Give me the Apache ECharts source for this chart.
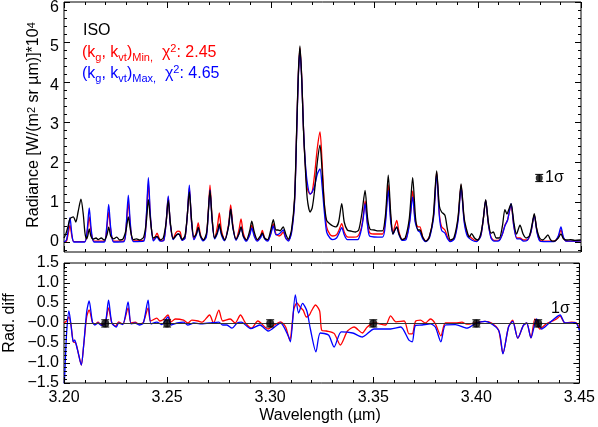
<!DOCTYPE html>
<html>
<head>
<meta charset="utf-8">
<script src="https://cdn.jsdelivr.net/npm/echarts@6/dist/echarts.min.js"></script>
<style>html,body{margin:0;padding:0;background:#fff}#c{width:598px;height:427px}</style>
</head>
<body>
<div id="c"></div>
<script>
// ---- Top panel: radiance (x1e4) vs wavelength (um) ----
const isoTop = [
[3.2000,0.10],[3.2010,0.22],[3.2020,0.40],[3.2029,0.58],[3.2045,0.63],[3.2057,0.50],[3.2068,0.75],[3.2082,1.07],[3.2093,0.70],[3.2102,0.20],
[3.2110,0.08],[3.2116,0.18],[3.2122,0.33],[3.2130,0.15],[3.2140,0.07],[3.2155,0.10],[3.2165,0.06],[3.2180,0.10],[3.2195,0.05],[3.2208,0.18],
[3.2216,0.37],[3.2226,0.15],[3.2240,0.08],[3.2255,0.12],[3.2270,0.05],[3.2285,0.07],[3.2300,0.30],[3.2311,0.63],[3.2322,0.28],[3.2335,0.06],
[3.2350,0.08],[3.2365,0.05],[3.2385,0.12],[3.2398,0.50],[3.2408,1.06],[3.2420,0.45],[3.2432,0.10],[3.2450,0.14],[3.2465,0.05],[3.2480,0.10],
[3.2494,0.50],[3.2504,1.04],[3.2515,0.45],[3.2528,0.08],[3.2540,0.15],[3.2551,0.20],[3.2560,0.18],[3.2570,0.06],[3.2585,0.15],[3.2596,0.65],
[3.2606,1.25],[3.2617,0.55],[3.2628,0.12],[3.2640,0.20],[3.2649,0.37],[3.2660,0.15],[3.2675,0.05],[3.2690,0.25],[3.2697,0.70],[3.2706,1.29],
[3.2716,0.60],[3.2728,0.10],[3.2742,0.25],[3.2751,0.45],[3.2762,0.20],[3.2778,0.05],[3.2796,0.40],[3.2806,0.82],[3.2817,0.35],[3.2832,0.07],
[3.2847,0.22],[3.2856,0.38],[3.2867,0.15],[3.2882,0.05],[3.2898,0.28],[3.2908,0.52],[3.2920,0.25],[3.2935,0.06],[3.2950,0.15],[3.2959,0.23],
[3.2970,0.10],[3.2985,0.06],[3.3000,0.30],[3.3012,0.56],[3.3025,0.30],[3.3035,0.30],[3.3045,0.28],[3.3060,0.38],[3.3072,0.20],[3.3085,0.07],
[3.3100,0.30],[3.3115,1.10],[3.3125,2.80],[3.3133,4.20],[3.3141,4.90],[3.3150,4.05],[3.3158,2.80],[3.3166,1.95],[3.3176,1.10],[3.3190,0.75],
[3.3200,0.85],[3.3212,1.30],[3.3225,2.00],[3.3238,2.42],[3.3248,1.80],[3.3258,1.00],[3.3270,0.54],[3.3286,0.45],[3.3300,0.40],[3.3315,0.38],
[3.3328,0.50],[3.3343,0.96],[3.3355,0.50],[3.3370,0.30],[3.3390,0.27],[3.3410,0.25],[3.3425,0.30],[3.3440,0.70],[3.3456,1.29],[3.3468,0.60],
[3.3480,0.32],[3.3500,0.30],[3.3520,0.28],[3.3540,0.28],[3.3555,0.70],[3.3568,1.67],[3.3580,0.70],[3.3590,0.20],[3.3600,0.30],[3.3609,0.38],
[3.3620,0.20],[3.3635,0.06],[3.3650,0.10],[3.3670,0.60],[3.3686,1.61],[3.3700,0.60],[3.3712,0.30],[3.3721,0.30],[3.3735,0.12],[3.3750,0.02],
[3.3765,0.10],[3.3785,0.60],[3.3802,1.78],[3.3815,0.90],[3.3826,0.75],[3.3842,0.67],[3.3855,0.29],[3.3868,0.05],[3.3885,0.10],[3.3905,0.60],
[3.3920,1.45],[3.3935,0.60],[3.3950,0.25],[3.3960,0.12],[3.3971,0.21],[3.3985,0.10],[3.4000,0.05],[3.4015,0.20],[3.4027,0.55],[3.4039,1.06],
[3.4052,0.50],[3.4065,0.22],[3.4076,0.25],[3.4090,0.10],[3.4105,0.10],[3.4120,0.40],[3.4132,0.81],[3.4142,0.70],[3.4150,0.80],[3.4162,0.96],
[3.4175,0.50],[3.4188,0.20],[3.4205,0.42],[3.4220,0.20],[3.4235,0.10],[3.4250,0.15],[3.4262,0.40],[3.4274,0.71],[3.4285,0.35],[3.4300,0.10],
[3.4315,0.05],[3.4330,0.12],[3.4340,0.18],[3.4350,0.08],[3.4360,0.02],[3.4375,0.03],[3.4390,0.10],[3.4403,0.20],[3.4415,0.08],[3.4430,0.05],
[3.4450,0.06],[3.4470,0.04],[3.4500,0.05]
];
const minTop = [
[3.2000,0.00],[3.2012,0.02],[3.2020,0.20],[3.2029,0.42],[3.2038,0.15],[3.2048,0.01],[3.2100,0.01],[3.2112,0.25],[3.2122,0.63],[3.2132,0.22],
[3.2145,0.02],[3.2195,0.02],[3.2206,0.30],[3.2216,0.75],[3.2226,0.30],[3.2240,0.02],[3.2290,0.03],[3.2301,0.40],[3.2311,1.00],[3.2321,0.40],
[3.2335,0.03],[3.2385,0.04],[3.2398,0.60],[3.2408,1.47],[3.2418,0.60],[3.2432,0.05],[3.2440,0.12],[3.2450,0.22],[3.2460,0.10],[3.2470,0.03],
[3.2483,0.05],[3.2494,0.50],[3.2504,1.12],[3.2514,0.45],[3.2528,0.08],[3.2540,0.22],[3.2551,0.27],[3.2562,0.25],[3.2572,0.05],[3.2585,0.10],
[3.2596,0.65],[3.2606,1.35],[3.2616,0.55],[3.2628,0.08],[3.2640,0.25],[3.2649,0.48],[3.2659,0.20],[3.2672,0.05],[3.2688,0.15],[3.2697,0.70],
[3.2706,1.42],[3.2716,0.60],[3.2728,0.10],[3.2742,0.40],[3.2751,0.73],[3.2761,0.30],[3.2776,0.05],[3.2796,0.45],[3.2806,0.93],[3.2817,0.40],
[3.2832,0.06],[3.2846,0.30],[3.2856,0.58],[3.2867,0.22],[3.2882,0.04],[3.2898,0.20],[3.2908,0.42],[3.2920,0.18],[3.2935,0.04],[3.2950,0.15],
[3.2959,0.29],[3.2970,0.10],[3.2985,0.04],[3.3000,0.22],[3.3012,0.45],[3.3025,0.20],[3.3040,0.15],[3.3050,0.18],[3.3060,0.25],[3.3072,0.10],
[3.3085,0.04],[3.3100,0.25],[3.3115,1.05],[3.3125,2.75],[3.3133,4.15],[3.3141,4.85],[3.3150,4.05],[3.3158,2.85],[3.3166,2.00],[3.3176,1.35],
[3.3190,1.20],[3.3200,1.25],[3.3212,1.70],[3.3225,2.35],[3.3238,2.75],[3.3248,2.00],[3.3258,1.00],[3.3270,0.38],[3.3286,0.19],[3.3300,0.15],
[3.3318,0.18],[3.3330,0.30],[3.3343,0.46],[3.3355,0.25],[3.3370,0.13],[3.3400,0.12],[3.3420,0.14],[3.3435,0.30],[3.3446,0.60],[3.3456,1.03],
[3.3468,0.45],[3.3480,0.22],[3.3510,0.20],[3.3540,0.20],[3.3555,0.60],[3.3568,1.43],[3.3580,0.60],[3.3592,0.25],[3.3600,0.40],[3.3609,0.54],
[3.3620,0.25],[3.3635,0.06],[3.3655,0.10],[3.3672,0.55],[3.3686,1.28],[3.3698,0.55],[3.3712,0.38],[3.3721,0.38],[3.3735,0.12],[3.3750,0.02],
[3.3768,0.15],[3.3788,0.70],[3.3802,1.75],[3.3815,0.70],[3.3826,0.38],[3.3842,0.30],[3.3855,0.12],[3.3868,0.02],[3.3888,0.10],[3.3906,0.60],
[3.3920,1.42],[3.3935,0.55],[3.3950,0.20],[3.3971,0.10],[3.3995,0.02],[3.4015,0.15],[3.4027,0.55],[3.4039,1.04],[3.4052,0.45],[3.4065,0.12],
[3.4080,0.04],[3.4105,0.05],[3.4120,0.20],[3.4132,0.42],[3.4145,0.55],[3.4162,0.93],[3.4175,0.40],[3.4190,0.10],[3.4205,0.10],[3.4222,0.05],
[3.4240,0.05],[3.4258,0.25],[3.4274,0.68],[3.4288,0.25],[3.4300,0.05],[3.4320,0.02],[3.4370,0.02],[3.4390,0.12],[3.4403,0.30],[3.4415,0.10],
[3.4430,0.02],[3.4500,0.03]
];
const maxTop = [
[3.2000,0.00],[3.2012,0.05],[3.2020,0.30],[3.2029,0.61],[3.2038,0.20],[3.2048,0.00],[3.2100,0.00],[3.2112,0.30],[3.2122,0.85],[3.2132,0.30],
[3.2145,0.00],[3.2195,0.00],[3.2206,0.35],[3.2216,0.94],[3.2226,0.35],[3.2240,0.00],[3.2290,0.01],[3.2301,0.45],[3.2311,1.17],[3.2321,0.45],
[3.2335,0.01],[3.2385,0.02],[3.2398,0.65],[3.2408,1.61],[3.2418,0.65],[3.2432,0.03],[3.2450,0.12],[3.2465,0.02],[3.2483,0.04],[3.2494,0.50],
[3.2504,1.15],[3.2514,0.45],[3.2528,0.06],[3.2545,0.18],[3.2555,0.20],[3.2572,0.04],[3.2585,0.10],[3.2596,0.65],[3.2606,1.42],[3.2616,0.55],
[3.2628,0.06],[3.2640,0.18],[3.2649,0.35],[3.2659,0.15],[3.2672,0.03],[3.2688,0.12],[3.2697,0.65],[3.2706,1.30],[3.2716,0.55],[3.2728,0.08],
[3.2742,0.22],[3.2751,0.40],[3.2761,0.18],[3.2776,0.03],[3.2796,0.40],[3.2806,0.82],[3.2817,0.35],[3.2832,0.04],[3.2846,0.20],[3.2856,0.37],
[3.2867,0.14],[3.2882,0.02],[3.2898,0.17],[3.2908,0.35],[3.2920,0.14],[3.2935,0.02],[3.2950,0.10],[3.2959,0.20],[3.2970,0.08],[3.2985,0.02],
[3.3000,0.20],[3.3012,0.40],[3.3025,0.18],[3.3040,0.20],[3.3050,0.25],[3.3060,0.30],[3.3072,0.10],[3.3085,0.02],[3.3100,0.22],[3.3115,1.00],
[3.3125,2.70],[3.3133,4.10],[3.3141,4.80],[3.3150,4.00],[3.3158,2.85],[3.3166,2.05],[3.3176,1.50],[3.3190,1.20],[3.3200,1.25],[3.3212,1.40],
[3.3225,1.70],[3.3238,1.83],[3.3248,1.40],[3.3258,0.80],[3.3270,0.25],[3.3286,0.10],[3.3300,0.06],[3.3318,0.10],[3.3330,0.22],[3.3343,0.36],
[3.3355,0.18],[3.3370,0.06],[3.3420,0.06],[3.3435,0.25],[3.3446,0.55],[3.3456,0.96],[3.3468,0.40],[3.3480,0.14],[3.3540,0.12],[3.3555,0.50],
[3.3568,1.29],[3.3580,0.50],[3.3592,0.20],[3.3600,0.30],[3.3609,0.37],[3.3620,0.18],[3.3635,0.04],[3.3655,0.07],[3.3672,0.50],[3.3686,1.13],
[3.3698,0.50],[3.3712,0.28],[3.3721,0.25],[3.3735,0.08],[3.3750,0.01],[3.3768,0.12],[3.3788,0.65],[3.3802,1.70],[3.3815,0.65],[3.3826,0.29],
[3.3842,0.22],[3.3855,0.08],[3.3868,0.01],[3.3888,0.08],[3.3906,0.55],[3.3920,1.38],[3.3935,0.50],[3.3950,0.15],[3.3971,0.05],[3.3995,0.01],
[3.4015,0.15],[3.4027,0.55],[3.4039,1.04],[3.4052,0.45],[3.4065,0.10],[3.4080,0.02],[3.4105,0.04],[3.4120,0.20],[3.4132,0.40],[3.4145,0.55],
[3.4162,0.96],[3.4175,0.40],[3.4190,0.08],[3.4205,0.08],[3.4222,0.02],[3.4240,0.04],[3.4258,0.25],[3.4274,0.67],[3.4288,0.22],[3.4300,0.03],
[3.4320,0.01],[3.4370,0.01],[3.4390,0.15],[3.4403,0.38],[3.4415,0.12],[3.4430,0.02],[3.4500,0.03]
];
// ---- Bottom panel: radiance difference (model - ISO) ----
const minDiff = [
[3.2000,0.00],[3.2012,0.05],[3.2024,0.15],[3.2034,-0.05],[3.2045,-0.47],[3.2057,-0.50],[3.2068,-0.72],[3.2084,-1.05],[3.2095,-0.58],[3.2110,0.15],
[3.2122,0.33],[3.2138,0.02],[3.2150,-0.03],[3.2165,0.02],[3.2180,-0.04],[3.2200,0.00],[3.2216,0.38],[3.2232,0.00],[3.2250,-0.08],[3.2265,0.03],
[3.2285,-0.03],[3.2311,0.38],[3.2325,0.00],[3.2345,0.02],[3.2365,-0.03],[3.2385,0.02],[3.2408,0.38],[3.2420,0.05],[3.2450,0.12],[3.2465,0.05],
[3.2480,0.08],[3.2504,0.20],[3.2520,0.03],[3.2540,0.10],[3.2580,0.07],[3.2600,0.00],[3.2620,0.07],[3.2650,0.05],[3.2670,0.02],[3.2706,0.20],
[3.2725,0.00],[3.2751,0.32],[3.2770,0.05],[3.2806,0.10],[3.2830,0.00],[3.2856,0.20],[3.2880,0.00],[3.2910,-0.13],[3.2940,0.05],[3.2990,-0.15],
[3.3020,-0.05],[3.3050,0.03],[3.3075,-0.10],[3.3095,-0.43],[3.3115,0.35],[3.3130,0.50],[3.3145,0.40],[3.3160,0.32],[3.3176,0.15],[3.3190,0.20],
[3.3200,0.30],[3.3220,0.45],[3.3240,0.30],[3.3250,-0.18],[3.3273,-0.20],[3.3310,-0.26],[3.3340,-0.55],[3.3375,-0.20],[3.3407,-0.10],[3.3447,-0.25],
[3.3471,-0.10],[3.3504,0.00],[3.3560,-0.05],[3.3584,0.18],[3.3610,0.03],[3.3650,0.05],[3.3673,-0.27],[3.3689,-0.27],[3.3705,0.04],[3.3729,0.07],
[3.3753,0.00],[3.3777,0.10],[3.3801,-0.02],[3.3828,-0.32],[3.3850,0.00],[3.3898,0.00],[3.3930,0.02],[3.3954,-0.03],[3.3994,0.00],[3.4042,0.04],
[3.4074,0.00],[3.4108,-0.18],[3.4129,-0.76],[3.4156,-0.10],[3.4176,0.07],[3.4201,-0.38],[3.4228,-0.06],[3.4244,0.00],[3.4265,-0.37],[3.4284,0.10],
[3.4308,-0.15],[3.4340,-0.02],[3.4365,0.04],[3.4389,0.10],[3.4406,0.17],[3.4430,0.00],[3.4462,0.02],[3.4486,0.00],[3.4500,-0.13]
];
const maxDiff = [
[3.2000,-1.70],[3.2006,-1.00],[3.2013,-0.22],[3.2024,0.30],[3.2034,-0.05],[3.2045,-0.47],[3.2052,-0.42],[3.2057,-0.50],[3.2068,-0.72],[3.2084,-1.05],
[3.2095,-0.58],[3.2110,0.28],[3.2122,0.55],[3.2138,0.02],[3.2150,-0.05],[3.2165,0.00],[3.2180,-0.06],[3.2200,-0.02],[3.2216,0.57],[3.2232,0.00],
[3.2254,-0.10],[3.2265,0.00],[3.2285,-0.04],[3.2311,0.53],[3.2325,-0.02],[3.2345,0.00],[3.2365,-0.05],[3.2385,0.00],[3.2408,0.57],[3.2422,-0.02],
[3.2450,0.02],[3.2475,-0.04],[3.2504,0.15],[3.2520,-0.05],[3.2550,0.00],[3.2580,0.02],[3.2600,-0.05],[3.2630,0.00],[3.2660,-0.02],[3.2706,0.00],
[3.2751,0.02],[3.2770,-0.05],[3.2790,-0.05],[3.2815,-0.13],[3.2840,0.00],[3.2860,0.02],[3.2905,-0.14],[3.2950,-0.05],[3.2990,-0.20],[3.3050,0.00],
[3.3090,-0.35],[3.3098,-0.47],[3.3122,0.70],[3.3138,0.25],[3.3157,0.49],[3.3178,0.30],[3.3195,-0.15],[3.3222,-0.72],[3.3243,-0.25],[3.3283,-0.30],
[3.3310,-0.60],[3.3345,-0.22],[3.3400,-0.25],[3.3447,-0.35],[3.3504,-0.15],[3.3584,-0.15],[3.3633,-0.10],[3.3673,-0.43],[3.3689,-0.47],[3.3705,-0.06],
[3.3737,-0.05],[3.3777,-0.02],[3.3801,-0.10],[3.3828,-0.47],[3.3850,-0.05],[3.3898,-0.04],[3.3954,-0.13],[3.3994,-0.02],[3.4042,0.04],[3.4108,-0.18],
[3.4129,-0.77],[3.4156,-0.10],[3.4176,0.04],[3.4201,-0.38],[3.4228,-0.06],[3.4244,0.00],[3.4265,-0.37],[3.4292,0.10],[3.4316,-0.15],[3.4350,-0.02],
[3.4406,0.20],[3.4430,0.00],[3.4480,0.01],[3.4500,-0.18]
];
// 1-sigma markers: [wavelength, value, sigma]
const sigmaTop = [[3.4298, 1.60, 0.09]];
const sigmaDiff = [[3.22,-0.01,0.09],[3.25,-0.01,0.09],[3.30,-0.01,0.09],[3.35,-0.01,0.09],[3.40,-0.01,0.09],[3.43,-0.01,0.09]];
// Axis ticks: [start, end, major step, minor step]
const xTickSpec = [3.20, 3.45, 0.05, 0.01];
const topYTickSpec = [0, 6, 1, 0.2];
const botYTickSpec = [-1.5, 1.5, 0.5, 0.1];
const topYRange = [-0.25, 6];

const FONT = 'Liberation Sans, Arial, Helvetica, sans-serif';
const chart = echarts.init(document.getElementById('c'), null, {renderer:'canvas'});

function tickValues(spec, lo, hi) {
  const [s, e, maj, mnr] = spec, out = [];
  const n0 = Math.ceil((lo - s) / mnr - 1e-6), n1 = Math.floor((hi - s) / mnr + 1e-6);
  for (let i = n0; i <= n1; i++) {
    const v = +(s + i * mnr).toFixed(6);
    const r = (v - s) / maj;
    out.push([v, Math.abs(r - Math.round(r)) < 1e-6]);
  }
  return out;
}
function tickData(xspec, yspec, ylo, yhi) {
  const d = [];
  const midY = (ylo + yhi) / 2, midX = (xspec[0] + xspec[1]) / 2;
  tickValues(xspec, xspec[0], xspec[1]).forEach(([v, m]) => d.push([v, midY, 0, m ? 6 : 3]));
  tickValues(yspec, ylo, yhi).forEach(([v, m]) => d.push([midX, v, 1, m ? 6 : 3]));
  return d;
}
function tickRender(params, api) {
  const cs = params.coordSys;
  const p = api.coord([api.value(0), api.value(1)]);
  const kind = api.value(2), len = api.value(3);
  const st = {stroke:'#000', lineWidth:1};
  let a, b;
  if (kind === 0) {
    const x = Math.round(p[0]) + 0.5;
    a = {x1:x, y1:cs.y + cs.height, x2:x, y2:cs.y + cs.height - len};
    b = {x1:x, y1:cs.y, x2:x, y2:cs.y + len};
  } else {
    const y = Math.round(p[1]) + 0.5;
    a = {x1:cs.x, y1:y, x2:cs.x + len, y2:y};
    b = {x1:cs.x + cs.width, y1:y, x2:cs.x + cs.width - len, y2:y};
  }
  return {type:'group', children:[{type:'line', shape:a, style:st}, {type:'line', shape:b, style:st}]};
}
function errBar(params, api) {
  const x = api.value(0), y = api.value(1), e = api.value(2);
  const t = api.coord([x, y+e]), b = api.coord([x, y-e]);
  const st = {stroke:'#000', lineWidth:1};
  return {type:'group', children:[
    {type:'line', shape:{x1:t[0], y1:t[1], x2:b[0], y2:b[1]}, style:st},
    {type:'line', shape:{x1:t[0]-4, y1:t[1], x2:t[0]+4, y2:t[1]}, style:st},
    {type:'line', shape:{x1:b[0]-4, y1:b[1], x2:b[0]+4, y2:b[1]}, style:st}
  ]};
}
const line = (name, data, color, xi, yi, z) => ({
  name, type:'line', data, xAxisIndex:xi, yAxisIndex:yi, showSymbol:false, symbol:'none',
  smooth:0.25, lineStyle:{color, width:1.3}, itemStyle:{color}, z, clip:true
});
const noAxisBits = {axisLine:{show:false, onZero:false}, axisTick:{show:false}, minorTick:{show:false},
  splitLine:{show:false}, minorSplitLine:{show:false}};

const option = {
  animation:false,
  backgroundColor:'#fff',
  grid:[
    {left:64, top:2, width:517, height:250, show:true, borderColor:'#000', borderWidth:1, backgroundColor:'transparent'},
    {left:64, top:2, width:517, height:240, show:false},
    {left:64, top:263, width:517, height:120, show:true, borderColor:'#000', borderWidth:1, backgroundColor:'transparent'}
  ],
  xAxis:[
    Object.assign({type:'value', gridIndex:0, min:xTickSpec[0], max:xTickSpec[1], axisLabel:{show:false}}, noAxisBits),
    {type:'value', gridIndex:1, min:xTickSpec[0], max:xTickSpec[1], show:false},
    Object.assign({type:'value', gridIndex:2, min:xTickSpec[0], max:xTickSpec[1], interval:xTickSpec[2],
      axisLabel:{show:true, margin:7, color:'#000', fontFamily:FONT, fontSize:16, formatter:v=>v.toFixed(2)}}, noAxisBits)
  ],
  yAxis:[
    Object.assign({type:'value', gridIndex:0, min:topYRange[0], max:topYRange[1], axisLabel:{show:false}}, noAxisBits),
    Object.assign({type:'value', gridIndex:1, min:topYTickSpec[0], max:topYTickSpec[1], interval:topYTickSpec[2],
      axisLabel:{show:true, margin:5, color:'#000', fontFamily:FONT, fontSize:16}}, noAxisBits),
    Object.assign({type:'value', gridIndex:2, min:botYTickSpec[0], max:botYTickSpec[1], interval:botYTickSpec[2],
      axisLabel:{show:true, margin:5, color:'#000', fontFamily:FONT, fontSize:16,
        formatter:v=>{const a=Math.abs(v)<1e-9; return (v<0||a?'\u2212':'')+Math.abs(v).toFixed(1);}}}, noAxisBits)
  ],
  series:[
    {type:'custom', name:'ticksTop', data:tickData(xTickSpec, topYTickSpec, topYRange[0], topYRange[1]),
      xAxisIndex:0, yAxisIndex:0, renderItem:tickRender, clip:false, silent:true, z:6},
    {type:'custom', name:'ticksBot', data:tickData(xTickSpec, botYTickSpec, botYTickSpec[0], botYTickSpec[1]),
      xAxisIndex:2, yAxisIndex:2, renderItem:tickRender, clip:false, silent:true, z:6},
    line('min', minTop, '#ff0000', 0, 0, 2),
    line('max', maxTop, '#0000ff', 0, 0, 3),
    line('ISO', isoTop, '#000000', 0, 0, 4),
    {type:'scatter', data:sigmaTop, xAxisIndex:0, yAxisIndex:0, symbolSize:7, itemStyle:{color:'#000'}, z:5},
    {type:'custom', data:sigmaTop, xAxisIndex:0, yAxisIndex:0, renderItem:errBar, z:5},
    Object.assign(line('minDiff', minDiff, '#ff0000', 2, 2, 2), {
      markLine:{silent:true, symbol:'none', label:{show:false}, lineStyle:{color:'#333', width:1, type:'solid'},
        data:[{yAxis:0}]}}),
    line('maxDiff', maxDiff, '#0000ff', 2, 2, 3),
    {type:'scatter', data:sigmaDiff, xAxisIndex:2, yAxisIndex:2, symbolSize:8, itemStyle:{color:'#000'}, z:5},
    {type:'custom', data:sigmaDiff, xAxisIndex:2, yAxisIndex:2, renderItem:errBar, z:5}
  ],
  graphic:[
    {type:'text', x:34, y:125, rotation:Math.PI/2, style:{
      text:'Radiance [W/(m{p|2} sr µm)]*10{p|4}', align:'center', verticalAlign:'middle', fill:'#000',
      font:'16px '+FONT,
      rich:{p:{fontSize:11, fontFamily:FONT, lineHeight:11, verticalAlign:'top', fill:'#000'}}}},
    {type:'text', x:10, y:323, rotation:Math.PI/2, style:{
      text:'Rad. diff', align:'center', verticalAlign:'middle', fill:'#000', font:'16px '+FONT}},
    {type:'text', x:320, y:416, style:{
      text:'Wavelength (µm)', align:'center', verticalAlign:'middle', fill:'#000', font:'16px '+FONT}},
    {type:'text', left:83, top:23, style:{text:'ISO', fill:'#000', font:'16px '+FONT}},
    {type:'text', left:82, top:43, style:{
      text:'{a|(k}{s|g}{a|, k}{s|vt}{a|)}{s|Min,}{a|  χ}{p|2}{a|: 2.45}', fill:'#ff0000',
      rich:{a:{fontSize:16, fontFamily:FONT, lineHeight:20, fill:'#ff0000'},
            s:{fontSize:11, fontFamily:FONT, lineHeight:11, verticalAlign:'bottom', fill:'#ff0000'},
            p:{fontSize:11, fontFamily:FONT, lineHeight:11, verticalAlign:'top', fill:'#ff0000'}}}},
    {type:'text', left:82, top:64, style:{
      text:'{a|(k}{s|g}{a|, k}{s|vt}{a|)}{s|Max,}{a|  χ}{p|2}{a|: 4.65}', fill:'#0000ff',
      rich:{a:{fontSize:16, fontFamily:FONT, lineHeight:20, fill:'#0000ff'},
            s:{fontSize:11, fontFamily:FONT, lineHeight:11, verticalAlign:'bottom', fill:'#0000ff'},
            p:{fontSize:11, fontFamily:FONT, lineHeight:11, verticalAlign:'top', fill:'#0000ff'}}}},
    {type:'text', left:545, top:170, style:{text:'1σ', fill:'#000', font:'16px '+FONT}},
    {type:'text', left:551, top:301, style:{text:'1σ', fill:'#000', font:'16px '+FONT}}
  ]
};
chart.setOption(option);
</script>
</body>
</html>
